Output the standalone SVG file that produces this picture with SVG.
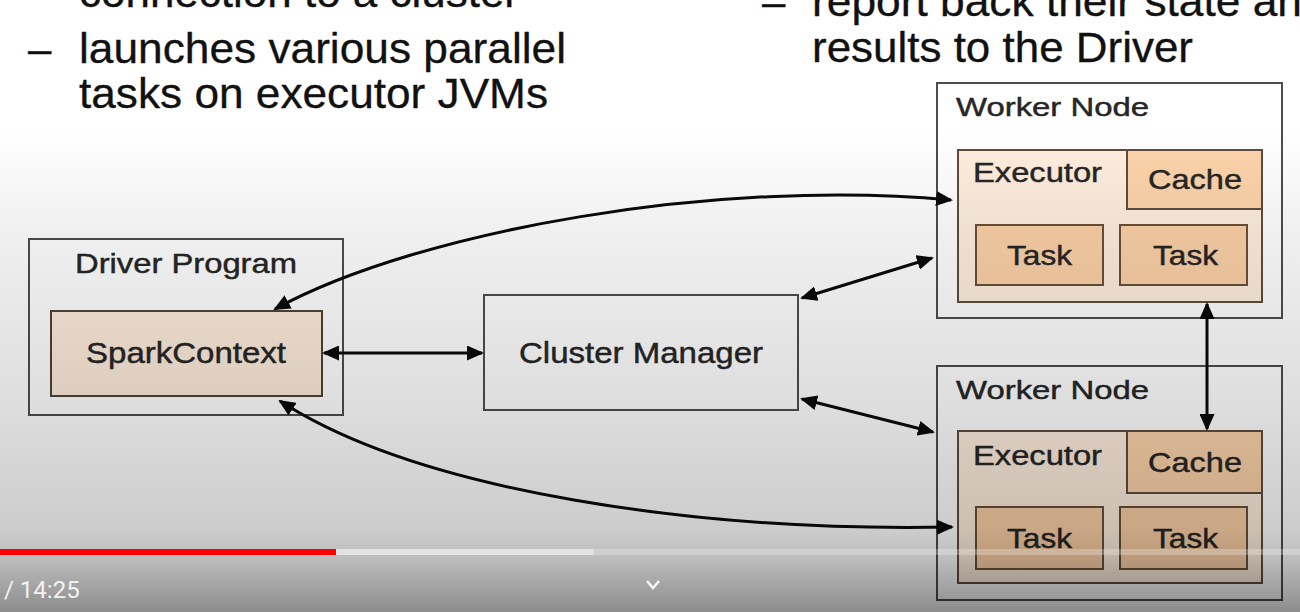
<svg xmlns="http://www.w3.org/2000/svg" width="1300" height="612" viewBox="0 0 1300 612">
<style>
.top{font-family:"Liberation Sans",Arial,sans-serif;font-size:42px;fill:#111;stroke:#111;stroke-width:0.3}
.lbl{font-family:"Liberation Sans",Arial,sans-serif;fill:#262626;stroke:#262626;stroke-width:0.45}
.box{fill:#ffffff;stroke:#4d4d4d;stroke-width:2}
.exec{fill:#ffeede;stroke:#5e4d3e;stroke-width:2}
.cache{fill:#fdd4ab;stroke:#5e4d3e;stroke-width:2}
.task{fill:#fbd0a6;stroke:#6b4f36;stroke-width:2}
.sc{fill:#fdecdb;stroke:#4d4236;stroke-width:2}
.conn{fill:none;stroke:#0a0a0a;stroke-width:3;marker-start:url(#ah);marker-end:url(#ah)}
</style>
<defs>
<marker id="ah" viewBox="0 0 17 15" markerWidth="17" markerHeight="15" refX="15" refY="7.5" orient="auto-start-reverse" markerUnits="userSpaceOnUse">
<path d="M0,0 L17,7.5 L0,15 z" fill="#0a0a0a"/>
</marker>
<linearGradient id="shade" gradientUnits="userSpaceOnUse" x1="0" y1="0" x2="0" y2="612">
<stop offset="0" stop-color="#000" stop-opacity="0"/>
<stop offset="0.212" stop-color="#000" stop-opacity="0"/>
<stop offset="0.376" stop-color="#000" stop-opacity="0.06"/>
<stop offset="0.654" stop-color="#000" stop-opacity="0.13"/>
<stop offset="0.866" stop-color="#000" stop-opacity="0.2"/>
<stop offset="0.912" stop-color="#000" stop-opacity="0.26"/>
<stop offset="1" stop-color="#000" stop-opacity="0.45"/>
</linearGradient>
</defs>
<rect x="0" y="0" width="1300" height="612" fill="#ffffff"/>

<g id="slide-text">
<text class="top" x="79" y="7" textLength="440" lengthAdjust="spacingAndGlyphs">connection to a cluster</text>
<text class="top" x="28" y="63">–</text>
<text class="top" x="79" y="63" textLength="487" lengthAdjust="spacingAndGlyphs">launches various parallel</text>
<text class="top" x="79" y="108" textLength="469" lengthAdjust="spacingAndGlyphs">tasks on executor JVMs</text>
<text class="top" x="762" y="16">–</text>
<text class="top" x="812" y="16" textLength="490" lengthAdjust="spacingAndGlyphs">report back their state an</text>
<text class="top" x="812" y="62" textLength="381" lengthAdjust="spacingAndGlyphs">results to the Driver</text>
</g>

<g id="driver-program">
<rect class="box" x="29" y="239" width="314" height="176"/>
<text class="lbl" x="75" y="273" font-size="28" textLength="222" lengthAdjust="spacingAndGlyphs">Driver Program</text>
</g>
<g id="spark-context">
<rect class="sc" x="51" y="311" width="271" height="85"/>
<text class="lbl" x="86" y="363" font-size="30" textLength="200" lengthAdjust="spacingAndGlyphs">SparkContext</text>
</g>

<g id="cluster-manager">
<rect class="box" x="484" y="295" width="314" height="115"/>
<text class="lbl" x="519" y="363" font-size="30" textLength="244" lengthAdjust="spacingAndGlyphs">Cluster Manager</text>
</g>

<g id="worker-node-1">
<rect class="box" x="937" y="83" width="345" height="235"/>
<text class="lbl" x="956" y="116" font-size="26" textLength="193" lengthAdjust="spacingAndGlyphs">Worker Node</text>
<g id="executor-1">
<rect class="exec" x="958" y="150" width="304" height="152"/>
<text class="lbl" x="973" y="182" font-size="27" textLength="129" lengthAdjust="spacingAndGlyphs">Executor</text>
<rect class="cache" x="1127" y="150" width="135" height="59"/>
<text class="lbl" x="1148" y="189" font-size="28" textLength="94" lengthAdjust="spacingAndGlyphs">Cache</text>
<rect class="task" x="976" y="225" width="127" height="60"/>
<text class="lbl" x="1007" y="265" font-size="28" textLength="65" lengthAdjust="spacingAndGlyphs">Task</text>
<rect class="task" x="1120" y="225" width="127" height="60"/>
<text class="lbl" x="1153" y="265" font-size="28" textLength="65" lengthAdjust="spacingAndGlyphs">Task</text>
</g>
</g>

<g id="worker-node-2">
<rect class="box" x="937" y="366" width="345" height="234"/>
<text class="lbl" x="956" y="399" font-size="26" textLength="193" lengthAdjust="spacingAndGlyphs">Worker Node</text>
<g id="executor-2">
<rect class="exec" x="958" y="431" width="304" height="152"/>
<text class="lbl" x="973" y="465" font-size="27" textLength="129" lengthAdjust="spacingAndGlyphs">Executor</text>
<rect class="cache" x="1127" y="431" width="135" height="62"/>
<text class="lbl" x="1148" y="472" font-size="28" textLength="94" lengthAdjust="spacingAndGlyphs">Cache</text>
<rect class="task" x="976" y="507" width="127" height="62"/>
<text class="lbl" x="1007" y="548" font-size="28" textLength="65" lengthAdjust="spacingAndGlyphs">Task</text>
<rect class="task" x="1120" y="507" width="127" height="62"/>
<text class="lbl" x="1153" y="548" font-size="28" textLength="65" lengthAdjust="spacingAndGlyphs">Task</text>
</g>
</g>

<g id="connectors">
<path class="conn" d="M 324 353 L 482 353"/>
<path class="conn" d="M 802 298 L 932 258"/>
<path class="conn" d="M 802 399 L 933 432"/>
<path class="conn" d="M 275 309 C 420 230, 720 178, 951 200"/>
<path class="conn" d="M 280 401 C 420 492, 700 532, 952 527"/>
<path class="conn" d="M 1207 304 L 1207 429"/>
</g>

<rect id="video-shade" x="0" y="0" width="1300" height="612" fill="url(#shade)"/>

<g id="video-controls">
<rect x="0" y="549" width="1300" height="6" fill="#ffffff" fill-opacity="0.25"/>
<rect x="336" y="549" width="258" height="6" fill="#e6e6e6" fill-opacity="0.85"/>
<rect x="0" y="549" width="336" height="6" fill="#ff0000"/>
<text x="4" y="598" font-family="Roboto,'Liberation Sans',sans-serif" font-size="24" fill="#f2f2f2">/ 14:25</text>
<polyline points="647,581 653,588 659,581" fill="none" stroke="#f5f5f5" stroke-width="2.5"/>
</g>
</svg>
